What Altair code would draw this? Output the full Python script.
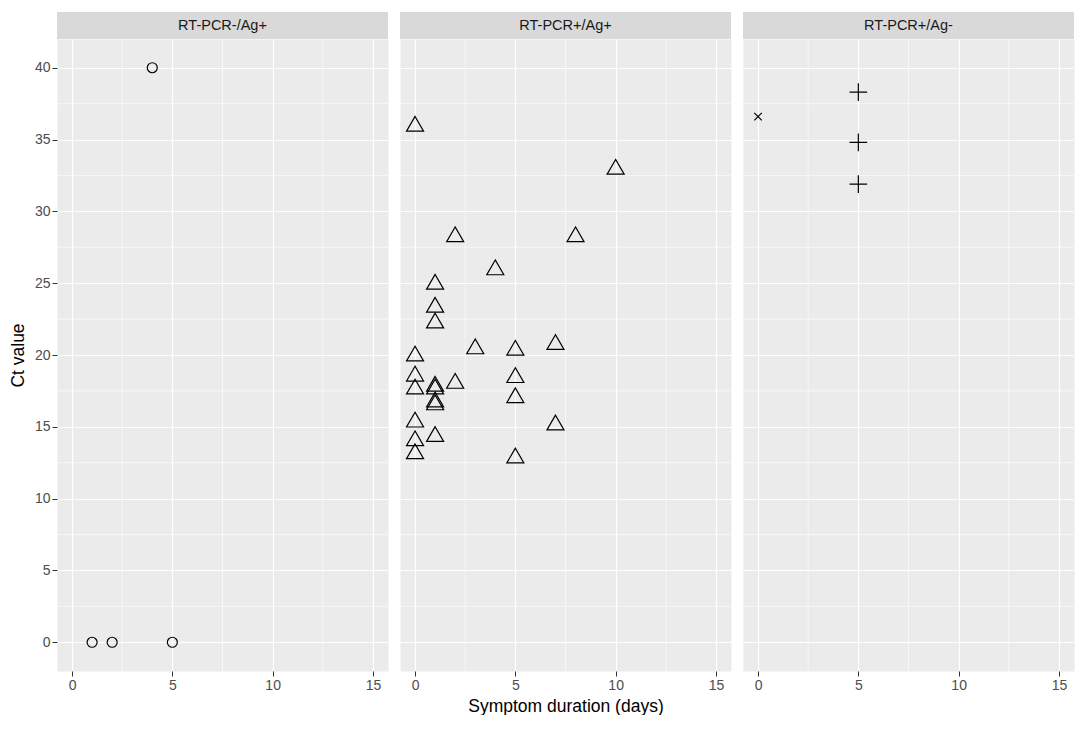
import altair as alt
import pandas as pd

panels = ["RT-PCR-/Ag+", "RT-PCR+/Ag+", "RT-PCR+/Ag-"]

# Panel 1: RT-PCR-/Ag+
p1_days = [1, 2, 5, 4]
p1_ct = [0, 0, 0, 40]
p1_sym = ["circle", "circle", "circle", "circle"]

# Panel 2: RT-PCR+/Ag+
p2_days = [0, 10, 2, 8, 4, 1, 1, 1, 3, 5, 7, 0, 0, 0, 1, 1, 2, 5, 5, 1, 1, 0, 7, 1, 0, 0, 5]
p2_ct = [36.1, 33.1, 28.4, 28.4, 26.1, 25.1, 23.5, 22.4, 20.6, 20.5, 20.9, 20.1, 18.7, 17.8,
         18.0, 17.8, 18.2, 18.6, 17.2, 16.9, 16.7, 15.5, 15.3, 14.5, 14.2, 13.3, 13.0]
p2_sym = ["triangle"] * len(p2_days)

# Panel 3: RT-PCR+/Ag-
p3_days = [0, 5, 5, 5]
p3_ct = [36.6, 38.3, 34.8, 31.9]
p3_sym = ["x", "plus", "plus", "plus"]

x_ticks = [0, 5, 10, 15]
y_ticks = [0, 5, 10, 15, 20, 25, 30, 35, 40]
x_minor = [2.5, 7.5, 12.5]
y_minor = [2.5, 7.5, 12.5, 17.5, 22.5, 27.5, 32.5, 37.5]

frames = []
for name, d, c, s in [(panels[0], p1_days, p1_ct, p1_sym),
                      (panels[1], p2_days, p2_ct, p2_sym),
                      (panels[2], p3_days, p3_ct, p3_sym)]:
    frames.append(pd.DataFrame({"panel": name, "days": d, "ct": c, "sym": s}))
df = pd.concat(frames, ignore_index=True)

W, H = 331, 632
FONT = "Liberation Sans"

xscale = alt.Scale(domain=[-0.75, 15.75], nice=False, zero=False)
yscale = alt.Scale(domain=[-2, 42], nice=False, zero=False)
shape_scale = alt.Scale(
    domain=["circle", "triangle", "plus", "x"],
    range=["circle", "triangle-up", "M-1,0L1,0M0,-1L0,1", "M-1,-1L1,1M-1,1L1,-1"],
)
size_scale = alt.Scale(type="ordinal", domain=["circle", "triangle", "plus", "x"],
                       range=[100, 290, 310, 56])


def panel(i, name):
    sub = df[df["panel"] == name]
    if i == 1:
        xaxis = alt.Axis(values=x_ticks, title="Symptom duration (days)", titlePadding=5)
    else:
        xaxis = alt.Axis(values=x_ticks, title=None)
    if i == 0:
        yaxis = alt.Axis(values=y_ticks, title="Ct value", titlePadding=7)
    else:
        yaxis = alt.Axis(values=y_ticks, title=None, labels=False, ticks=False)

    x_enc = alt.X("days:Q", scale=xscale, axis=xaxis)
    y_enc = alt.Y("ct:Q", scale=yscale, axis=yaxis)

    minor_v = alt.Chart(pd.DataFrame({"days": x_minor})).mark_rule(
        color="white", strokeWidth=0.6
    ).encode(x=x_enc)
    minor_h = alt.Chart(pd.DataFrame({"ct": y_minor})).mark_rule(
        color="white", strokeWidth=0.6
    ).encode(y=y_enc)

    pts = alt.Chart(sub).mark_point(
        filled=False, color="black", strokeWidth=1.2, opacity=1
    ).encode(
        x=x_enc,
        y=y_enc,
        shape=alt.Shape("sym:N", scale=shape_scale, legend=None),
        size=alt.Size("sym:N", scale=size_scale, legend=None),
    )

    lab = pd.DataFrame({"label": [name]})
    strip = alt.Chart(lab).mark_rect(color="#D9D9D9").encode(
        x=alt.value(0), x2=alt.value(W), y=alt.value(-27), y2=alt.value(0)
    )
    strip_text = alt.Chart(lab).mark_text(
        font=FONT, fontSize=14.5, color="#1A1A1A", baseline="middle", align="center"
    ).encode(text="label:N", x=alt.value(W / 2), y=alt.value(-13))

    return alt.layer(minor_v, minor_h, pts, strip, strip_text).properties(width=W, height=H)


chart = alt.hconcat(*[panel(i, n) for i, n in enumerate(panels)], spacing=10).properties(
    padding={"left": 0, "top": 3, "right": 0, "bottom": 0},
    background="white",
).configure_view(
    fill="#EBEBEB", stroke="transparent"
).configure_axis(
    grid=True,
    gridColor="white",
    gridWidth=1.2,
    domain=False,
    tickColor="#333333",
    tickSize=5,
    tickWidth=1,
    labelColor="#4D4D4D",
    labelFont=FONT,
    labelFontSize=14,
    labelPadding=2,
    titleFont=FONT,
    titleFontSize=17.5,
    titleFontWeight="normal",
    titleColor="black",
)

chart.save("out.html", embed_options={"renderer": "svg", "actions": False})
